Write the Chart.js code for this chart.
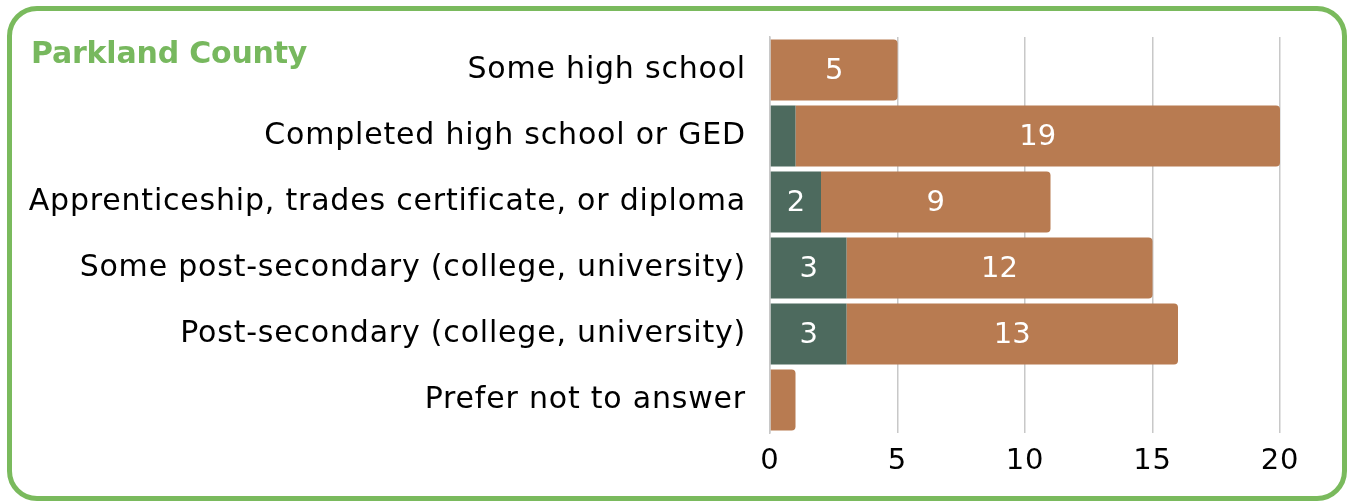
<!DOCTYPE html>
<html>
<head>
<meta charset="utf-8">
<script src="https://cdn.jsdelivr.net/npm/chart.js@4/dist/chart.umd.min.js"></script>
<style>
  html, body { margin: 0; padding: 0; background: #fff; }
  #wrap { position: relative; width: 1351px; height: 502px; overflow: hidden; }
  #frame {
    position: absolute; left: 7px; top: 6px; width: 1330px; height: 485px;
    border: 5px solid #7aba5d; border-radius: 30px;
  }
  #title {
    position: absolute; left: 31px; top: 35px;
    font-family: "DejaVu Sans", sans-serif; font-weight: 700;
    font-size: 30px; color: #77b85e; letter-spacing: -0.2px;
  }
  canvas { position: absolute; left: 0; top: 0; }
</style>
</head>
<body>
<div id="wrap">
  <div id="frame"></div>
  <canvas id="eduChart" width="1351" height="502"></canvas>
  <div id="title">Parkland County</div>
</div>
<script>
const categories = [
  'Some high school',
  'Completed high school or GED',
  'Apprenticeship, trades certificate, or diploma',
  'Some post-secondary (college, university)',
  'Post-secondary (college, university)',
  'Prefer not to answer'
];
const greenValues = [0, 1, 2, 3, 3, 0];
const brownValues = [5, 19, 9, 12, 13, 1];
const xTicks = [0, 5, 10, 15, 20];

const FONT = '"DejaVu Sans", sans-serif';

// a little extra tracking for all canvas text
const tracking = {
  id: 'tracking',
  beforeDraw(chart) { chart.ctx.letterSpacing = '0.8px'; }
};

// writes the segment value in the middle of each bar piece
const segmentLabels = {
  id: 'segmentLabels',
  afterDatasetsDraw(chart) {
    const ctx = chart.ctx;
    ctx.save();
    ctx.letterSpacing = '0px';
    ctx.fillStyle = '#ffffff';
    ctx.font = '29px ' + FONT;
    ctx.textAlign = 'center';
    ctx.textBaseline = 'middle';
    chart.data.datasets.forEach((ds, i) => {
      const meta = chart.getDatasetMeta(i);
      meta.data.forEach((bar, j) => {
        const v = ds.data[j];
        if (v > 1) {
          ctx.fillText(String(v), (bar.x + bar.base) / 2, bar.y + 1);
        }
      });
    });
    ctx.restore();
  }
};

const ctx = document.getElementById('eduChart').getContext('2d');
new Chart(ctx, {
  type: 'bar',
  data: {
    labels: categories,
    datasets: [
      {
        label: 'Group A',
        data: greenValues,
        backgroundColor: '#4d6a5e',
        borderRadius: 0,
        barPercentage: 1,
        categoryPercentage: 0.925
      },
      {
        label: 'Group B',
        data: brownValues,
        backgroundColor: '#b87b51',
        borderRadius: 4,
        borderSkipped: 'start',
        barPercentage: 1,
        categoryPercentage: 0.925
      }
    ]
  },
  options: {
    indexAxis: 'y',
    responsive: false,
    animation: false,
    layout: { padding: { left: 0, right: 71, top: 37, bottom: 0 } },
    plugins: {
      legend: { display: false },
      tooltip: { enabled: false }
    },
    scales: {
      x: {
        stacked: true,
        min: 0,
        max: 20,
        afterBuildTicks: (scale) => { scale.ticks = xTicks.map(v => ({ value: v })); },
        afterFit: (scale) => { scale.height = 69; },
        grid: { color: '#c8c8c8', lineWidth: 1.5, drawTicks: false },
        border: { display: false },
        ticks: { color: '#000', padding: 11, font: { family: FONT, size: 29 } }
      },
      y: {
        stacked: true,
        afterFit: (scale) => {
          scale.width = 770;
          // labels sit inside their bands, no extra room needed above/below
          scale.paddingTop = 0;
          scale.paddingBottom = 0;
        },
        grid: { display: false, drawTicks: false },
        border: { display: true, color: '#c8c8c8', width: 1.5 },
        ticks: { color: '#000', padding: 24, font: { family: FONT, size: 30 } }
      }
    }
  },
  plugins: [tracking, segmentLabels]
});
</script>
</body>
</html>
